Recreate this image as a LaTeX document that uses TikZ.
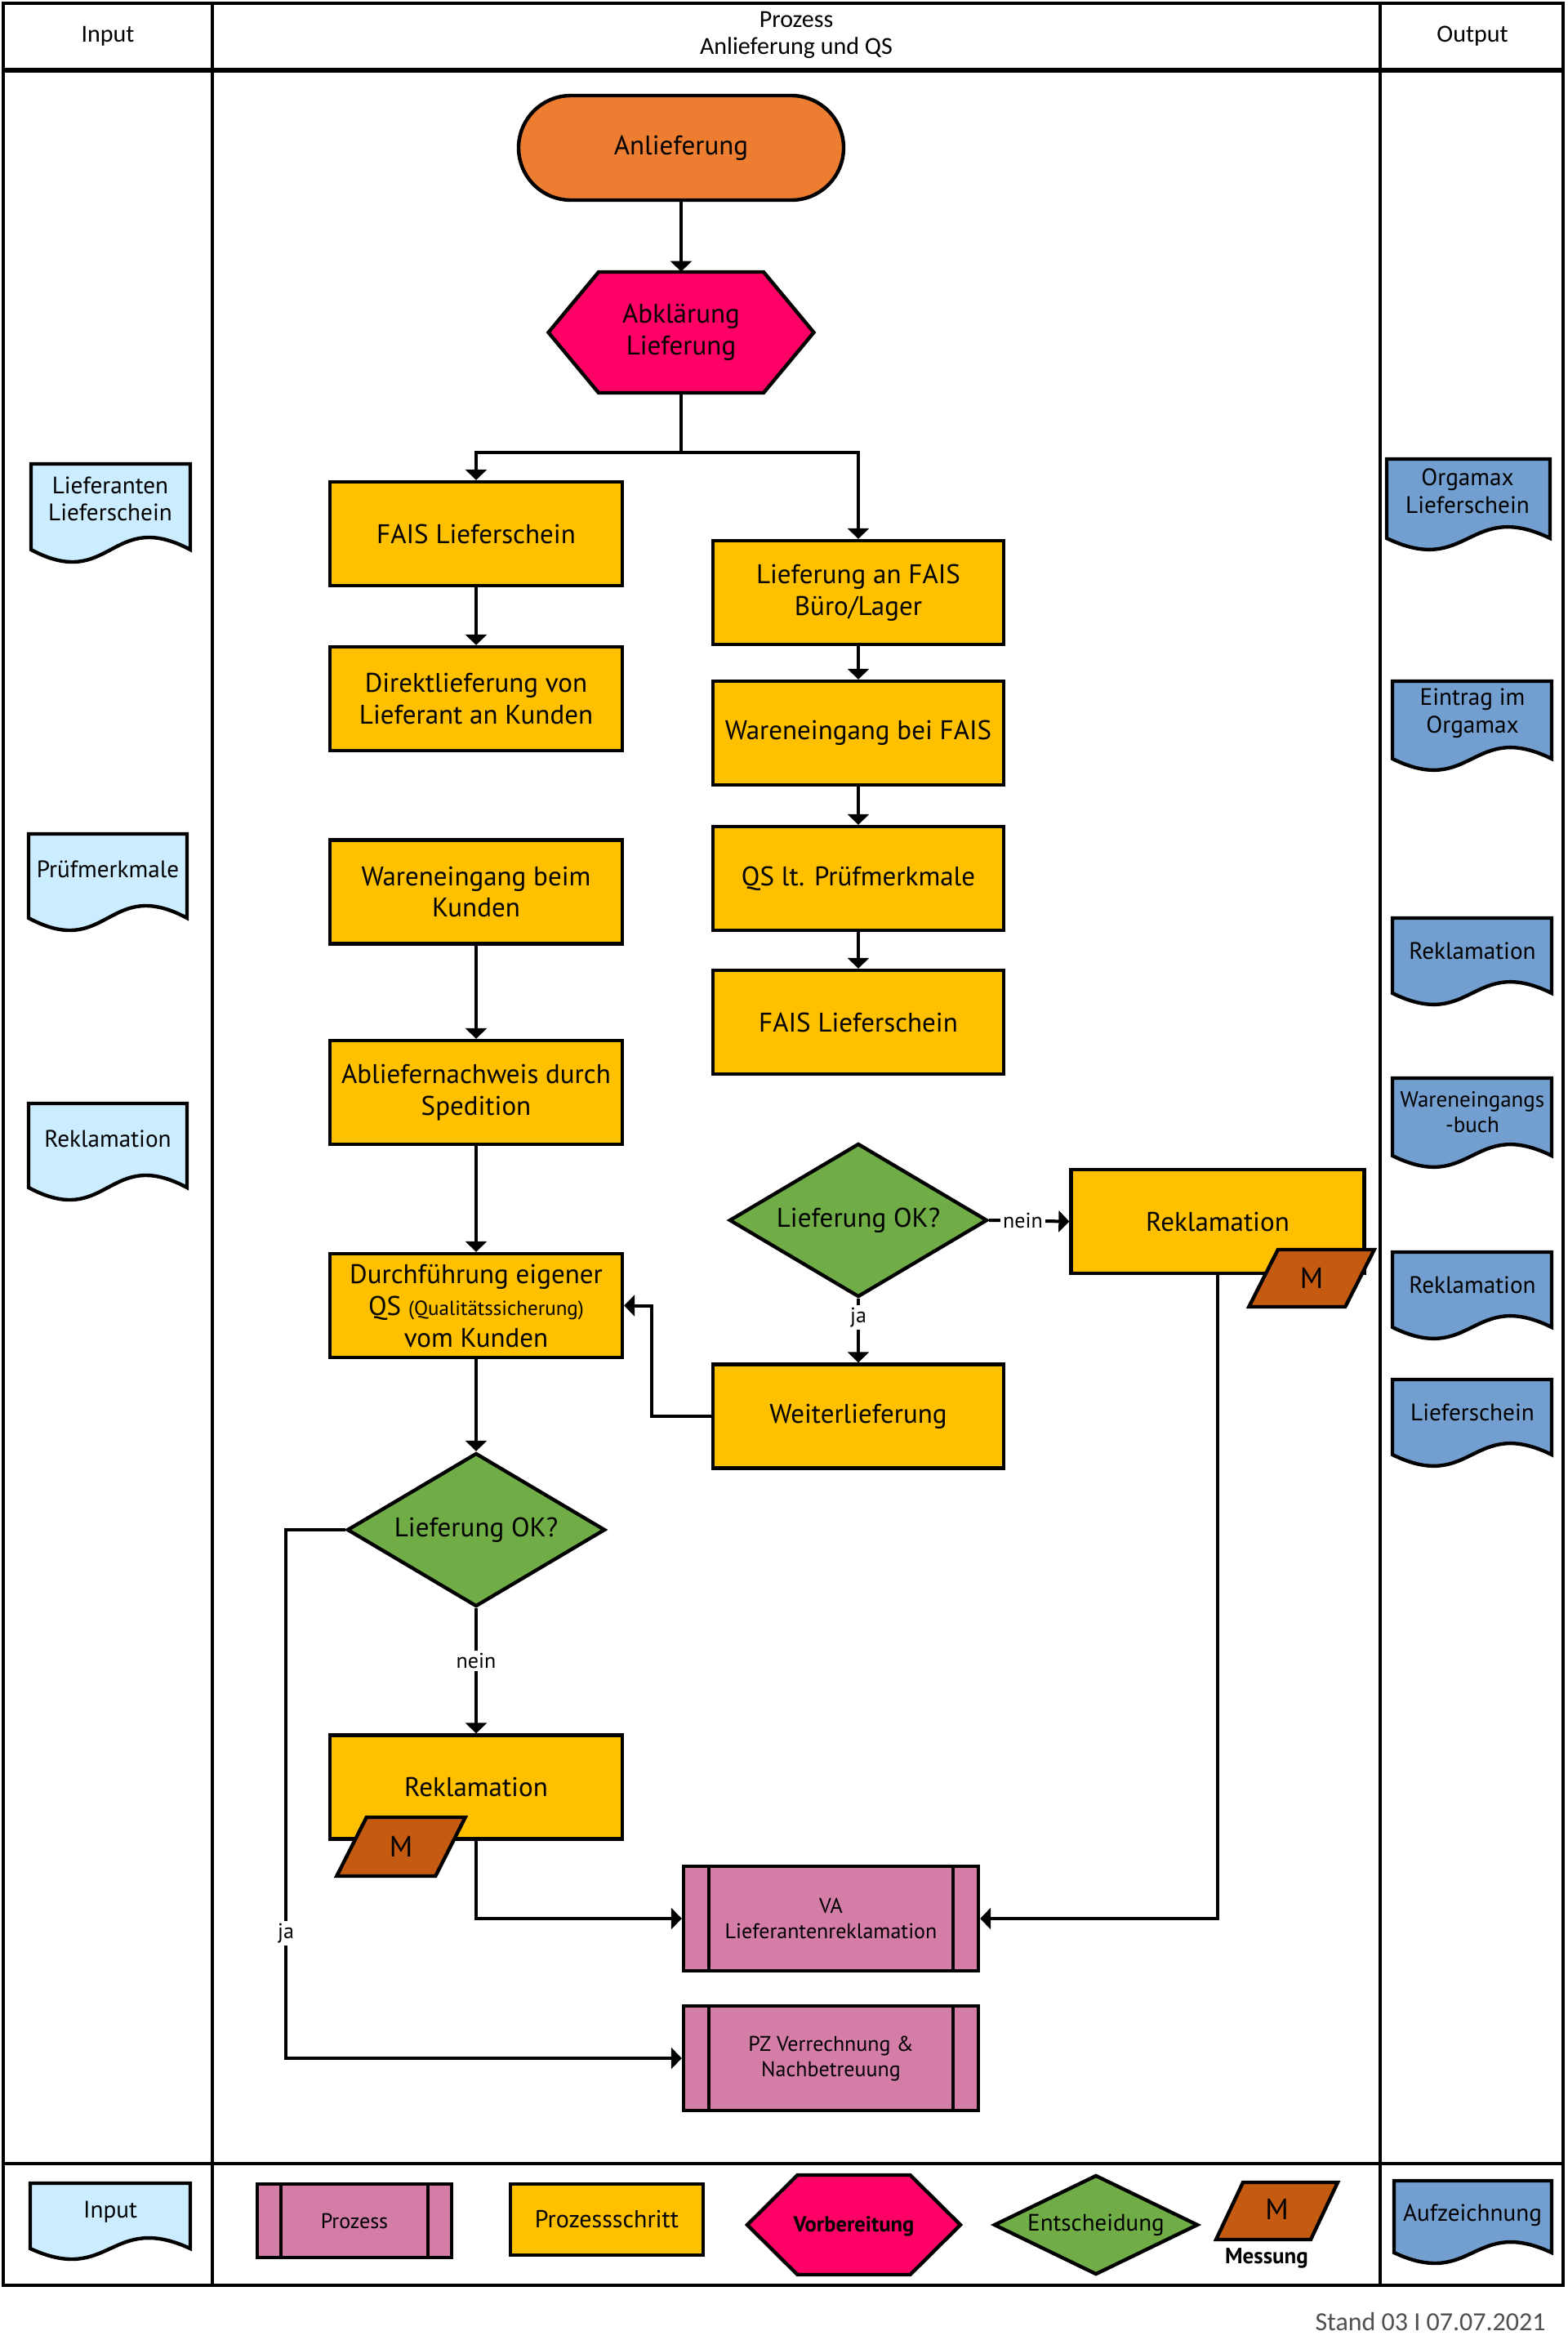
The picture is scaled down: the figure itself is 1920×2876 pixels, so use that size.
\documentclass[tikz,border=0pt]{standalone}
\usepackage{fontspec}
\setmainfont{PT Sans}
\newfontfamily\calib{Carlito}
\usetikzlibrary{arrows.meta,shapes.geometric}
\definecolor{cOrange}{HTML}{ED7D31}
\definecolor{cMag}{HTML}{FF0066}
\definecolor{cYellow}{HTML}{FFC000}
\definecolor{cGreen}{HTML}{70AD47}
\definecolor{cBrown}{HTML}{C55A11}
\definecolor{cPink}{HTML}{D47DA7}
\definecolor{cLight}{HTML}{CCECFF}
\definecolor{cBlue}{HTML}{729FCF}
\definecolor{cGray}{HTML}{505050}
% document shape: x, y (top-left), w, h (side height), k (wave control), colour
\newcommand\docshp[6]{%
  \draw[shp, fill=#6] (#1,#2) -- ({#1+#3},#2) -- ({#1+#3},{#2+#4})
    .. controls ({#1+0.5*#3},{#2+#4-#5}) and ({#1+0.5*#3},{#2+#4+#5}) .. (#1,{#2+#4}) -- cycle;}
% hexagon: cx, cy, w, h, inset
\newcommand\hexshp[5]{%
  \draw[shp, fill=cMag] ({#1-#3/2},#2) -- ({#1-#3/2+#5},{#2-#4/2}) -- ({#1+#3/2-#5},{#2-#4/2})
    -- ({#1+#3/2},#2) -- ({#1+#3/2-#5},{#2+#4/2}) -- ({#1-#3/2+#5},{#2+#4/2}) -- cycle;}
% parallelogram: cx, cy, top width, h, slant
\newcommand\parshp[5]{%
  \draw[shp, fill=cBrown] ({#1-#3/2+#5/2},{#2-#4/2}) -- ({#1+#3/2+#5/2},{#2-#4/2})
    -- ({#1+#3/2-#5/2},{#2+#4/2}) -- ({#1-#3/2-#5/2},{#2+#4/2}) -- cycle;}
\begin{document}
\begin{tikzpicture}[x=0.5pt,y=-0.5pt,
  shp/.style={draw=black, line width=2.2pt},
  frame/.style={draw=black, line width=2pt},
  nfont/.style={font=\fontsize{16.5}{19.5}\selectfont},
  dfont/.style={font=\fontsize{14.6}{16.8}\selectfont},
  stepbox/.style={shp, fill=cYellow, minimum width=179pt, minimum height=63.5pt, inner sep=2pt, align=center, nfont},
  decision/.style={shp, diamond, fill=cGreen, minimum width=158pt, minimum height=94pt, inner sep=0pt, aspect=1.68, align=center, nfont},
  procbox/.style={shp, fill=cPink, minimum width=180.5pt, minimum height=64pt, inner sep=2pt, align=center, font=\fontsize{13}{15.5}\selectfont},
  plain/.style={inner sep=0pt, align=center},
  doctext/.style={plain, dfont},
  hdr/.style={plain, font=\calib\fontsize{15}{16.5}\selectfont},
  lbl/.style={fill=white, inner sep=1.5pt, font=\fontsize{13}{15}\selectfont},
  conn/.style={line width=2pt, -{Triangle[width=13pt,length=6.5pt]}},
  cline/.style={line width=2pt}]
\useasboundingbox (0,0) rectangle (1920,2876);
\fill[white] (0,0) rectangle (1920,2876);

% ---------- frame ----------
\draw[frame] (4,4) rectangle (1914,2798);
\draw[frame] (260,4) -- (260,2798);
\draw[frame] (1690,4) -- (1690,2798);
\draw[line width=3pt] (4,86) -- (1914,86);
\draw[frame] (4,2649) -- (1914,2649);

\node[hdr] (hIn) at (132,44) {Input};
\node[hdr] (hProc) at (975,43) {Prozess\\Anlieferung und QS};
\node[hdr] (hOut) at (1803,44) {Output};

% ---------- input documents ----------
\docshp{38}{568}{195}{105}{52}{cLight}
\node[doctext] (in1) at (135,611) {Lieferanten\\Lieferschein};
\docshp{35}{1021}{194}{103}{52}{cLight}
\node[doctext] (in2) at (132,1064) {Prüfmerkmale};
\docshp{35}{1351}{194}{103}{52}{cLight}
\node[doctext] (in3) at (132,1394) {Reklamation};

% ---------- output documents ----------
\docshp{1698}{562}{200}{97}{48}{cBlue}
\node[doctext] (out1) at (1797,601) {Orgamax\\Lieferschein};
\docshp{1705}{834}{195}{95}{48}{cBlue}
\node[doctext] (out2) at (1803,873) {Eintrag im\\Orgamax};
\docshp{1705}{1124}{195}{92}{48}{cBlue}
\node[doctext] (out3) at (1803,1164) {Reklamation};
\docshp{1705}{1320}{195}{95}{48}{cBlue}
\node[doctext, font=\fontsize{13.5}{15.5}\selectfont] (out4) at (1803,1362) {Wareneingangs\\-buch};
\docshp{1705}{1533}{195}{92}{48}{cBlue}
\node[doctext] (out5) at (1803,1573) {Reklamation};
\docshp{1705}{1689}{195}{92}{48}{cBlue}
\node[doctext] (out6) at (1803,1729) {Lieferschein};

% ---------- process nodes ----------
\node[shp, fill=cOrange, rounded corners=32pt, minimum width=199pt, minimum height=64pt, nfont] (start) at (834,181) {Anlieferung};
\hexshp{834}{407}{325}{148}{61.5}
\node[plain, nfont, minimum width=162.5pt, minimum height=74pt] (prep) at (834,407) {Abklärung\\Lieferung};

\node[stepbox] (L1) at (583,653.5) {FAIS Lieferschein};
\node[stepbox] (L2) at (583,855.5) {Direktlieferung von\\Lieferant an Kunden};
\node[stepbox] (L3) at (583,1092) {Wareneingang beim\\Kunden};
\node[stepbox] (L4) at (583,1337.5) {Abliefernachweis durch\\Spedition};
\node[stepbox] (L5) at (583,1598.5) {Durchführung eigener\\QS {\fontsize{12.5}{15}\selectfont (Qualitätssicherung)}\\vom Kunden};
\node[decision] (D1) at (583,1873) {Lieferung OK?};
\node[stepbox] (L6) at (583,2188) {Reklamation};
\parshp{491}{2261}{121}{72}{36.5}
\node[plain, font=\fontsize{18}{20}\selectfont] (M1) at (491,2261) {M};

\node[stepbox, minimum width=178pt] (R1) at (1051,725.5) {Lieferung an FAIS\\Büro/Lager};
\node[stepbox, minimum width=178pt] (R2) at (1051,897.5) {Wareneingang bei FAIS};
\node[stepbox, minimum width=178pt] (R3) at (1051,1075.5) {QS lt. Prüfmerkmale};
\node[stepbox, minimum width=178pt] (R4) at (1051,1251.5) {FAIS Lieferschein};
\node[decision] (D2) at (1051,1494) {Lieferung OK?};
\node[stepbox, minimum width=178pt] (R5) at (1051,1734) {Weiterlieferung};
\node[stepbox, minimum width=179.5pt] (Rek2) at (1491,1495.5) {Reklamation};
\parshp{1606}{1565}{118}{70}{35.5}
\node[plain, font=\fontsize{18}{20}\selectfont] (M2) at (1606,1565) {M};

\node[procbox] (VA) at (1017.5,2349) {VA\\Lieferantenreklamation};
\draw[shp] ([xshift=16.5pt]VA.north west) -- ([xshift=16.5pt]VA.south west);
\draw[shp] ([xshift=-16.5pt]VA.north east) -- ([xshift=-16.5pt]VA.south east);
\node[procbox] (PZ) at (1017.5,2520) {PZ Verrechnung \&\\Nachbetreuung};
\draw[shp] ([xshift=16.5pt]PZ.north west) -- ([xshift=16.5pt]PZ.south west);
\draw[shp] ([xshift=-16.5pt]PZ.north east) -- ([xshift=-16.5pt]PZ.south east);

% ---------- connectors ----------
\coordinate (split) at (834,554);
\coordinate (wl) at (798,1734);
\coordinate (ja1) at (350,1873);
\draw[conn] (start.south) -- (prep.north);
\draw[cline] (prep.south) -- (split);
\draw[conn] (split) -| (L1.north);
\draw[conn] (split) -| (R1.north);
\draw[conn] (L1.south) -- (L2.north);
\draw[conn] (L3.south) -- (L4.north);
\draw[conn] (L4.south) -- (L5.north);
\draw[conn] (L5.south) -- (D1.north);
\draw[conn] (R1.south) -- (R2.north);
\draw[conn] (R2.south) -- (R3.north);
\draw[conn] (R3.south) -- (R4.north);
\draw[conn] (D2.east) -- node[lbl, pos=0.42] {nein} (Rek2.west);
\draw[conn] (D2.south) -- node[lbl, pos=0.29] {ja} (R5.north);
\draw[conn] (R5.west) -- (wl) |- (L5.east);
\draw[conn] (D1.south) -- node[lbl, pos=0.42] {nein} (L6.north);
\draw[conn] (L6.south) |- (VA.west);
\draw[conn] (Rek2.south) |- (VA.east);
\draw[conn] (D1.west) -- (ja1) |- node[lbl, pos=0.382] {ja} (PZ.west);

% ---------- legend ----------
\docshp{37}{2673}{196}{80}{45}{cLight}
\node[doctext] (lgIn) at (135,2708) {Input};
\node[shp, fill=cPink, minimum width=119pt, minimum height=45pt, font=\fontsize{13}{15}\selectfont] (lgProc) at (434,2719) {Prozess};
\draw[shp] ([xshift=15.5pt]lgProc.north west) -- ([xshift=15.5pt]lgProc.south west);
\draw[shp] ([xshift=-15.5pt]lgProc.north east) -- ([xshift=-15.5pt]lgProc.south east);
\node[shp, fill=cYellow, minimum width=118pt, minimum height=43.5pt, font=\fontsize{15}{17}\selectfont] (lgStep) at (743,2717.5) {Prozessschritt};
\hexshp{1045.5}{2724}{261}{122}{61.5}
\node[plain, font=\bfseries\fontsize{13.3}{16}\selectfont] (lgPrep) at (1045.5,2726) {Vorbereitung};
\node[shp, diamond, fill=cGreen, minimum width=125pt, minimum height=61pt, inner sep=0pt, aspect=2, font=\fontsize{14.5}{16}\selectfont] (lgDec) at (1342,2724) {Entscheidung};
\parshp{1563.5}{2707}{116}{70}{33}
\node[plain, font=\fontsize{18}{20}\selectfont] (lgM) at (1563.5,2705) {M};
\node[plain, font=\bfseries\fontsize{13.5}{15}\selectfont] (lgMtxt) at (1551,2765) {Messung};
\docshp{1707}{2670}{193}{88}{45}{cBlue}
\node[doctext] (lgAuf) at (1803,2712) {Aufzeichnung};

\node[plain, anchor=east, text=cGray, font=\calib\fontsize{16}{18}\selectfont] (stand) at (1893,2842) {Stand 03 I 07.07.2021};
\end{tikzpicture}
\end{document}
